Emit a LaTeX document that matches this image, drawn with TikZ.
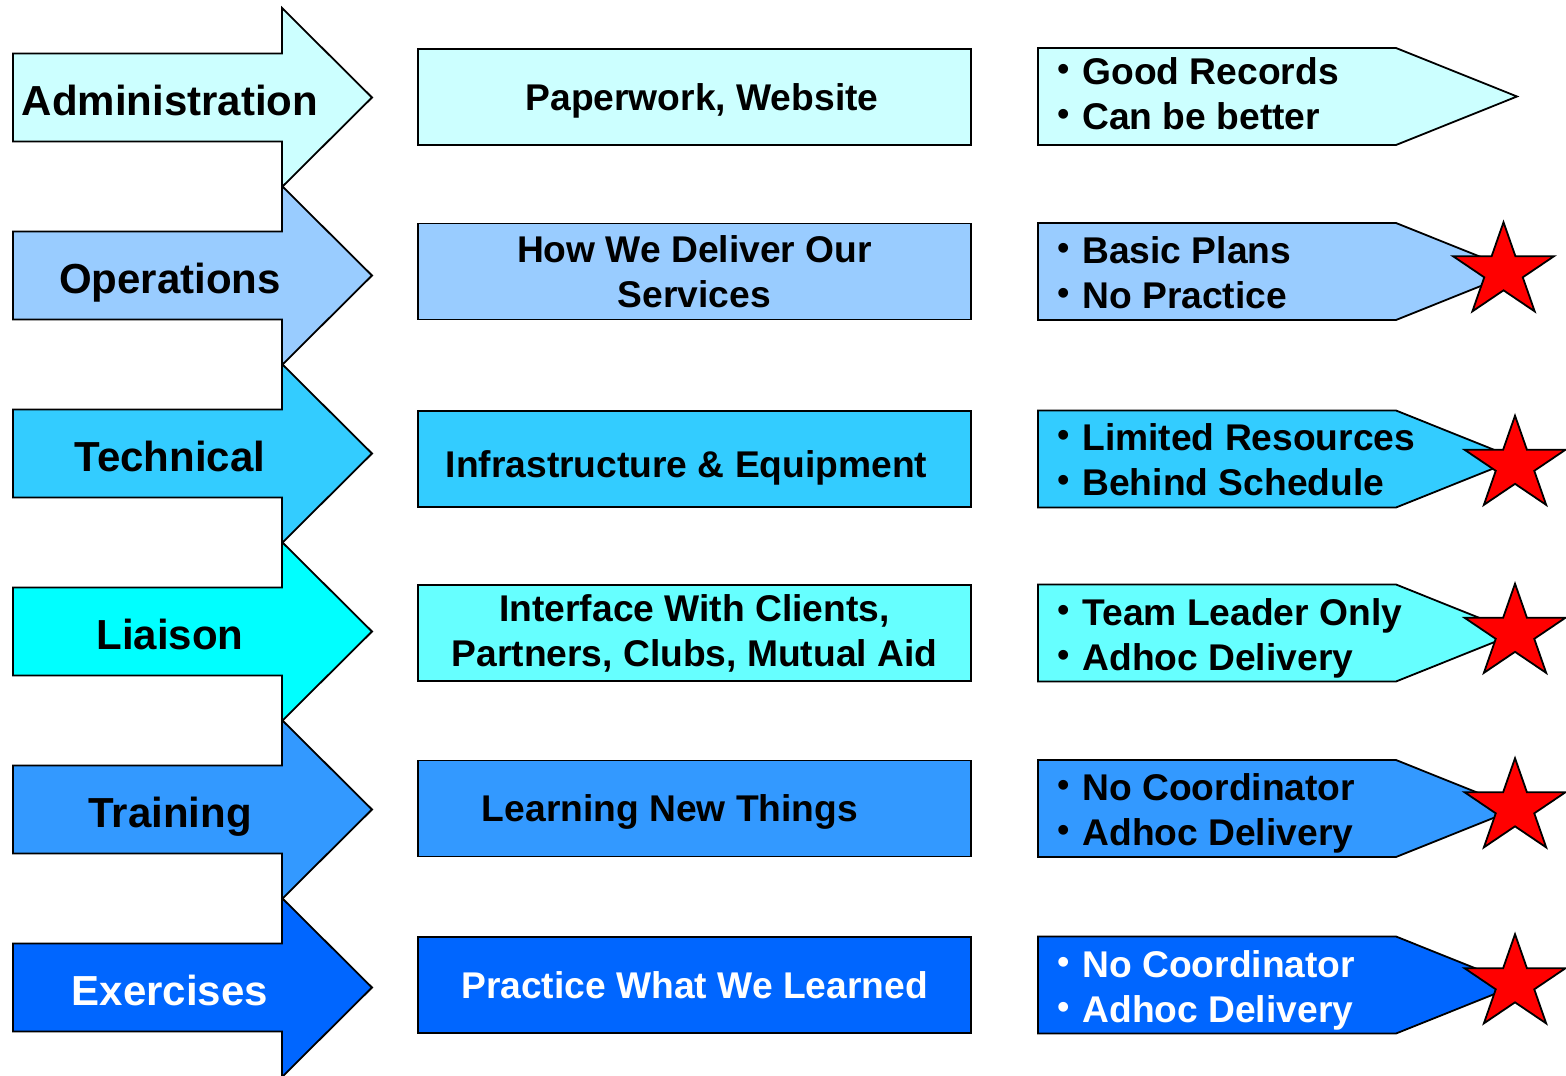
\documentclass[tikz,border=0pt]{standalone}
\usepackage{fontspec}
\setmainfont{Liberation Sans}
\usetikzlibrary{shapes.geometric}

\definecolor{adminc}{HTML}{CCFFFF}
\definecolor{operc}{HTML}{99CCFF}
\definecolor{techc}{HTML}{33CCFF}
\definecolor{liaic}{HTML}{00FFFF}
\definecolor{liaib}{HTML}{66FFFF}
\definecolor{trainc}{HTML}{3399FF}
\definecolor{exerc}{HTML}{0066FF}

\tikzset{
  outl/.style={draw=black, line width=0.9pt, line join=miter},
  bigtxt/.style={font=\bfseries\fontsize{21}{25}\selectfont, anchor=base},
  midbox/.style={outl, minimum width=276.5pt, minimum height=48pt, inner sep=0pt,
    align=center, font=\bfseries\fontsize{18.6}{22.5}\selectfont},
  onel/.style={text height=13.4pt, text depth=0pt},
  listtxt/.style={anchor=west, align=left, inner sep=0pt,
    font=\bfseries\fontsize{18.6}{22.5}\selectfont},
  redstar/.style={star, star points=5, star point ratio=2.618, draw=black, fill=red,
    line width=0.9pt, minimum size=53pt, inner sep=0pt, transform shape},
}
\newcommand{\bul}{\makebox[13pt][l]{\hspace{0.5pt}\raisebox{2pt}{\fontsize{17}{17}\selectfont\textbullet}}}

\begin{document}
\begin{tikzpicture}[x=0.5pt,y=-0.5pt]
\useasboundingbox (0,0) rectangle (1566,1075);

% left arrows
\foreach \c/\col in {97.5/adminc,275.5/operc,453.5/techc,631.5/liaic,809.5/trainc,987.5/exerc}
  \filldraw[outl, fill=\col] (13,\c-44) -- (282,\c-44) -- (282,\c-89.5) -- (372,\c)
    -- (282,\c+89.5) -- (282,\c+44) -- (13,\c+44) -- cycle;

\node[bigtxt] (adm) at (170,115.5) {Administration};
\node[bigtxt] (ops) at (170,293.5) {Operations};
\node[bigtxt] (tec) at (170,471.5) {Technical};
\node[bigtxt] (lia) at (170,649.5) {Liaison};
\node[bigtxt] (trn) at (170,827.5) {Training};
\node[bigtxt, text=white] (exe) at (170,1005.5) {Exercises};

% middle boxes
\node[midbox, onel, fill=adminc] (admm) at (694.5,97) {\hspace*{7.5pt}Paperwork, Website};
\node[midbox, fill=operc] (opsm) at (694.5,271.5) {How We Deliver Our\\Services};
\node[midbox, onel, fill=techc] (tecm) at (694.5,459) {\raisebox{-2.5pt}{Infrastructure \& Equipment}\hspace*{8pt}};
\node[midbox, fill=liaib] (liam) at (694.5,633) {Interface With Clients,\\Partners, Clubs, Mutual Aid};
\node[midbox, onel, fill=trainc] (trnm) at (694.5,808.5) {Learning New Things\hspace*{24.5pt}};
\node[midbox, onel, fill=exerc, text=white] (exem) at (694.5,985) {Practice What We Learned};

% right pointers
\foreach \c/\col in {96.5/adminc,271.5/operc,459/techc,633/liaib,808.5/trainc,985/exerc}
  \filldraw[outl, fill=\col] (1038,\c-48.5) -- (1396,\c-48.5) -- (1517,\c)
    -- (1396,\c+48.5) -- (1038,\c+48.5) -- cycle;

\node[listtxt] (admr) at (1056,93.5) {\bul Good Records\\\bul Can be better};
\node[listtxt] (opsr) at (1056,272.5) {\bul Basic Plans\\\bul No Practice};
\node[listtxt] (tecr) at (1056,460) {\bul Limited Resources\\\bul Behind Schedule};
\node[listtxt] (liar) at (1056,638) {\bul Team Leader Only\\\bul Adhoc Delivery};
\node[listtxt] (trnr) at (1056,813.5) {\bul No Coordinator\\\bul Adhoc Delivery};
\node[listtxt, text=white] (exer) at (1056,990) {\bul No Coordinator\\\bul Adhoc Delivery};

% stars
\foreach \sx/\sy/\nm in {1503.5/271.5/st2,1515/465/st3,1515/633/st4,1515/807.5/st5,1515/983.5/st6}{
  \begin{scope}[shift={(\sx,\sy)}, yscale=0.93]
    \node[redstar] (\nm) at (0,0) {};
  \end{scope}
}
\end{tikzpicture}
\end{document}
